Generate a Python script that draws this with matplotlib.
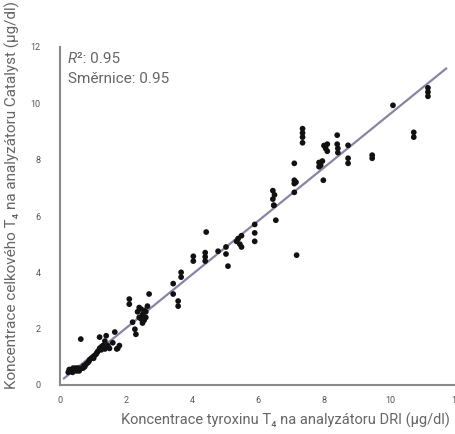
import matplotlib
matplotlib.use("Agg")
import matplotlib.pyplot as plt
import numpy as np

# Data (µg/dl): DRI (x) vs Catalyst (y)
dri_x = [0.25, 0.3, 0.35, 0.4, 0.45, 0.5, 0.55, 0.6, 0.65, 0.7, 0.75, 0.8, 0.85, 0.9, 0.95,
         1.0, 1.05, 1.1, 1.15, 1.2, 1.25, 1.3,
         0.28, 0.38, 0.48, 0.58, 0.72, 0.88, 1.02, 1.12,
         0.63,
         1.2, 1.25, 1.36, 1.36, 1.4, 1.45, 1.5, 1.6, 1.66, 1.72, 1.75, 1.8,
         2.1, 2.1,
         2.2, 2.27, 2.3,
         2.35, 2.4, 2.45, 2.5, 2.55, 2.6, 2.65, 2.5, 2.4, 2.55, 2.6, 2.45,
         2.7,
         3.43, 3.43, 3.58, 3.58,
         3.67, 3.67,
         4.04, 4.04,
         4.43,
         4.4, 4.4, 4.4,
         4.79,
         5.03, 5.09, 5.03,
         5.4, 5.45, 5.5, 5.35, 5.5,
         5.9, 5.9, 5.9,
         6.48, 6.54, 6.45, 6.5, 6.45, 6.48,
         7.1, 7.1, 7.1, 7.1, 7.15,
         7.17,
         7.35, 7.35, 7.35, 7.35,
         7.85, 7.9, 7.95, 7.85,
         7.98,
         8.0, 8.05, 8.1, 8.1,
         8.4, 8.4, 8.42, 8.42,
         8.73, 8.73, 8.73,
         9.46, 9.46,
         10.72, 10.72,
         10.09,
         11.15, 11.15, 11.15]
catalyst_y = [0.45, 0.5, 0.55, 0.6, 0.55, 0.5, 0.6, 0.55, 0.6, 0.6, 0.65, 0.75, 0.8, 0.9, 0.95,
              1.0, 1.05, 1.1, 1.2, 1.3, 1.25, 1.4,
              0.55, 0.45, 0.6, 0.5, 0.68, 0.85, 0.95, 1.15,
              1.63,
              1.7, 1.35, 1.56, 1.28, 1.75, 1.4, 1.3, 1.5, 1.88, 1.28, 1.3, 1.4,
              3.05, 2.87,
              2.23, 1.98, 1.8,
              2.6, 2.4, 2.7, 2.5, 2.3, 2.6, 2.8, 2.2, 2.75, 2.65, 2.4, 2.35,
              3.23,
              3.6, 3.23, 2.98, 2.8,
              4.0, 3.83,
              4.57, 4.4,
              5.43,
              4.4, 4.55, 4.7,
              4.75,
              4.65, 4.22, 4.9,
              5.2, 5.0, 4.9, 5.1, 5.3,
              5.7, 5.4, 5.1,
              6.38, 5.85, 6.9, 6.75, 6.6, 6.38,
              7.87, 7.27, 7.15, 6.84, 7.2,
              4.61,
              9.1, 8.95, 8.8, 8.6,
              7.9, 7.8, 7.95, 7.75,
              7.27,
              8.5, 8.4, 8.3, 8.55,
              8.87, 8.55, 8.4, 8.25,
              8.51, 8.05, 7.87,
              8.16, 8.05,
              8.97, 8.8,
              9.93,
              10.55, 10.4, 10.25]

fit_slope = 0.95
fit_intercept = 0.12
fit_x = [0.12, 11.7]

x_ticks = [0, 2, 4, 6, 8, 10, 12]
y_ticks = [0, 2, 4, 6, 8, 10, 12]

FONT = ['Roboto', 'DejaVu Sans']
plt.rcParams['font.family'] = FONT

fig = plt.figure(figsize=(4.56, 4.34), dpi=100)
ax = fig.add_axes([60/456, 1-385/434, 396/456, 338/434])

fx = np.array(fit_x)
ax.plot(fx, fit_slope*fx + fit_intercept, color='#8c82a6', lw=1.6, zorder=1)
ax.scatter(dri_x, catalyst_y, s=17, color='#111111', edgecolors='none', zorder=2)

ax.set_xlim(0, 12)
ax.set_ylim(0, 12)
ax.set_xticks(x_ticks)
ax.set_yticks(y_ticks)
ax.tick_params(length=0, labelsize=6.5, colors='#555555')
ax.tick_params(axis='y', pad=14)
ax.tick_params(axis='x', pad=8)
for s in ['top', 'right']:
    ax.spines[s].set_visible(False)
for s in ['left', 'bottom']:
    ax.spines[s].set_color('#8a8a8a')
    ax.spines[s].set_linewidth(1.5)

gray = '#666666'
fig.text(12/456, 1-195/434, 'Koncentrace celkového T\u2084 na analyzátoru Catalyst (µg/dl)',
         rotation=90, ha='center', va='center', fontsize=11, color=gray)
fig.text(450/456, 1-420/434, 'Koncentrace tyroxinu T\u2084 na analyzátoru DRI (µg/dl)',
         ha='right', va='center', fontsize=10.5, color=gray)

t1 = ax.text(0.02, 0.985, 'R', transform=ax.transAxes, fontsize=11, color=gray,
             style='italic', ha='left', va='top')
ax.annotate('\u00b2: 0.95', xy=(1, 0), xycoords=t1, ha='left', va='bottom',
            fontsize=11, color=gray)
ax.text(0.02, 0.925, 'Směrnice: 0.95', transform=ax.transAxes, fontsize=11, color=gray,
        ha='left', va='top')

fig.savefig('out.png', dpi=100)
